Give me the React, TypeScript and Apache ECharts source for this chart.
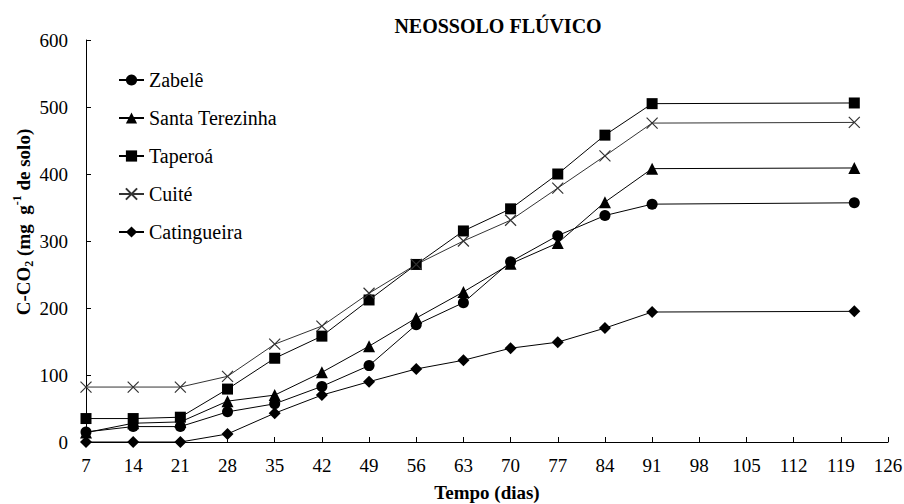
import React, { useEffect, useRef } from "react";
import * as echarts from "echarts";

const days = [7, 14, 21, 28, 35, 42, 49, 56, 63, 70, 77, 84, 91, 121];
const zabele = [15, 23, 23, 45, 57, 83, 114, 175, 208, 269, 308, 338, 355, 357];
const santaTerezinha = [14, 28, 30, 61, 70, 104, 143, 185, 224, 266, 297, 358, 408, 409];
const taperoa = [35, 35, 37, 79, 125, 158, 212, 265, 315, 348, 400, 458, 505, 506];
const cuite = [82, 82, 82, 98, 146, 173, 222, 265, 300, 331, 379, 427, 476, 477];
const catingueira = [0, 0, 0, 12, 43, 70, 90, 109, 122, 140, 149, 170, 194, 195];

const seriesNames = ["Zabelê", "Santa Terezinha", "Taperoá", "Cuité", "Catingueira"];
const titleText = "NEOSSOLO FLÚVICO";
const xName = "Tempo (dias)";

const FONT = "Liberation Serif";

function pairs(vals: number[]) {
  return days.map((d, i) => [d, vals[i]]);
}

export default function App() {
  const ref = useRef<HTMLDivElement>(null);
  useEffect(() => {
    document.body.style.margin = "0";
    if (!ref.current) return;
    const chart = echarts.init(ref.current, null, { renderer: "svg" });
    const mk = (name: string, vals: number[], symbol: string, size: number, color = "#000") => ({
      name,
      type: "line",
      data: pairs(vals),
      symbol,
      symbolSize: size,
      showSymbol: true,
      lineStyle: { color, width: 1 },
      itemStyle: symbol.startsWith("path")
        ? { color: "none", borderColor: color, borderWidth: 1.2 }
        : { color: "#000", borderWidth: 0 },
      emphasis: { disabled: true },
    });
    chart.setOption({
      animation: false,
      backgroundColor: "#fff",
      textStyle: { fontFamily: FONT },
      title: {
        text: titleText,
        left: 493,
        textAlign: "center",
        top: 11,
        textStyle: { fontFamily: FONT, fontSize: 20, fontWeight: "bold", color: "#000" },
      },
      legend: {
        orient: "vertical",
        left: 113,
        top: 65,
        itemWidth: 25,
        itemHeight: 14,
        itemGap: 18,
        data: seriesNames,
        textStyle: { fontFamily: FONT, fontSize: 20, color: "#000", lineHeight: 20 },
      },
      grid: { left: 86, right: 16, top: 40, bottom: 62, containLabel: false, outerBoundsMode: "none" },
      xAxis: {
        type: "value",
        min: 7,
        max: 126,
        interval: 7,
        name: xName,
        nameLocation: "middle",
        nameGap: 41,
        nameTextStyle: { fontFamily: FONT, fontSize: 19, fontWeight: "bold", color: "#000" },
        axisLine: { lineStyle: { color: "#000", width: 1 } },
        axisTick: { inside: true, length: 5, lineStyle: { color: "#000" } },
        axisLabel: { fontFamily: FONT, fontSize: 19, color: "#000", margin: 14 },
        splitLine: { show: false },
      },
      yAxis: {
        type: "value",
        min: 0,
        max: 600,
        interval: 100,
        axisLine: { show: true, lineStyle: { color: "#000", width: 1 } },
        axisTick: { show: true, inside: true, length: 5, lineStyle: { color: "#000" } },
        axisLabel: { fontFamily: FONT, fontSize: 19, color: "#000", margin: 18 },
        splitLine: { show: false },
      },
      graphic: [
        {
          type: "text",
          x: 23,
          y: 222,
          rotation: Math.PI / 2,
          style: {
            text: "{b|C-CO}{s|2}{b| (mg  g}{p|-1}{b| de solo)}",
            align: "center",
            verticalAlign: "middle",
            fill: "#000",
            rich: {
              b: { fontFamily: FONT, fontSize: 19, fontWeight: "bold", lineHeight: 24, fill: "#000" },
              s: { fontFamily: FONT, fontSize: 12, fontWeight: "bold", lineHeight: 12, verticalAlign: "bottom", fill: "#000" },
              p: { fontFamily: FONT, fontSize: 12, fontWeight: "bold", lineHeight: 12, verticalAlign: "top", fill: "#000" },
            },
          },
        },
      ],
      series: [
        mk(seriesNames[0], zabele, "circle", 11),
        mk(seriesNames[1], santaTerezinha, "triangle", 12),
        mk(seriesNames[2], taperoa, "rect", 11),
        mk(seriesNames[3], cuite, "path://M0,0L10,10M0,10L10,0", 11, "#333"),
        mk(seriesNames[4], catingueira, "diamond", 12),
      ],
    });
    return () => chart.dispose();
  }, []);
  return <div ref={ref} style={{ width: 904, height: 504 }} />;
}
